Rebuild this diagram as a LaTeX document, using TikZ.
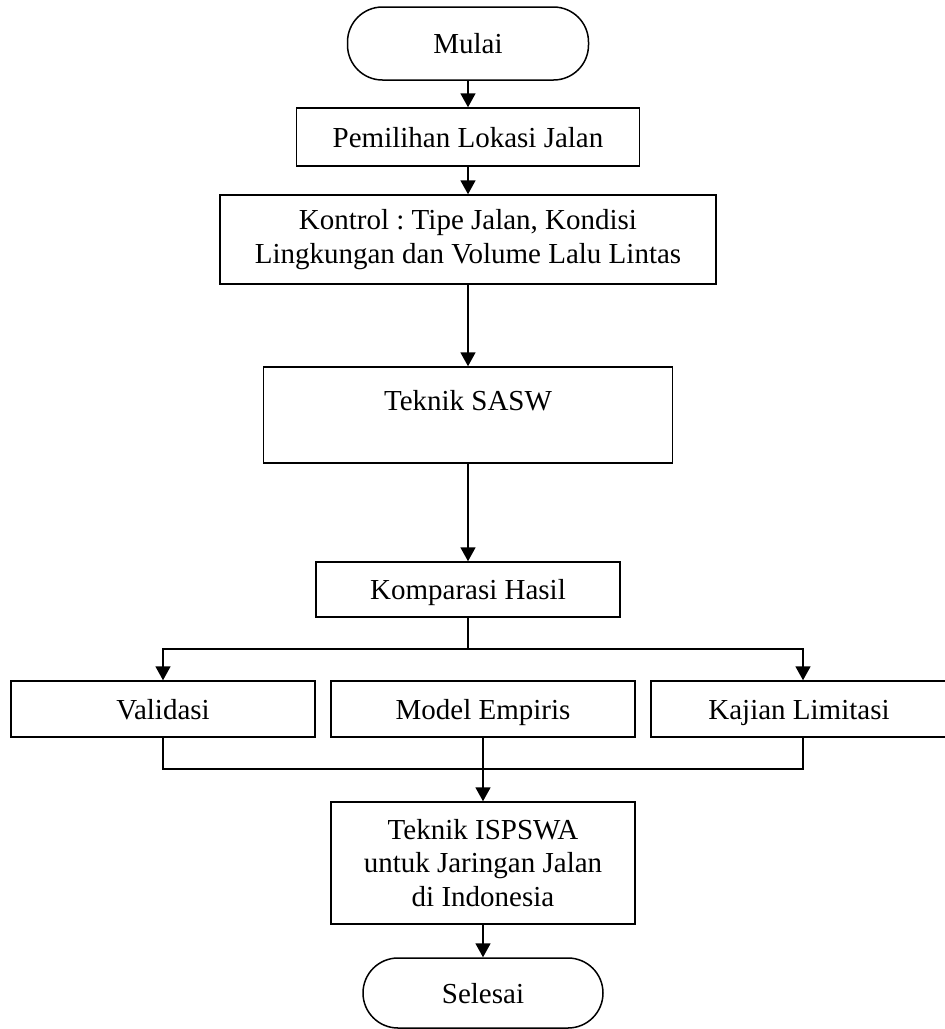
\documentclass[tikz,border=0pt]{standalone}
\usepackage{fontspec}
\setmainfont{Liberation Serif}
\usetikzlibrary{arrows.meta}
\frenchspacing
\begin{document}
\begin{tikzpicture}[x=1pt,y=-1pt,
  box/.style={draw,line width=1.5pt,inner sep=0pt,align=center,font=\fontsize{29}{33.5}\selectfont\frenchspacing},
  one/.style={text height=20pt,text depth=0pt},
  term/.style={box,one,rounded corners=35pt},
  line/.style={line width=1.8pt},
  arr/.style={line,-{Triangle[length=14pt,width=15pt]}}]
\useasboundingbox (0,0) rectangle (945,1029);
\fill[white] (0,0) rectangle (945,1029);
\node[term,minimum width=241pt,minimum height=73pt] (mulai) at (468,43.5) {Mulai};
\node[box,one,minimum width=343pt,minimum height=58pt] (pem) at (468,137) {Pemilihan Lokasi Jalan};
\node[box,minimum width=496pt,minimum height=89pt] (kon) at (468,239.5) {Kontrol : Tipe Jalan, Kondisi\\Lingkungan dan Volume Lalu Lintas};
\node[box,minimum width=409pt,minimum height=96pt] (sasw) at (468,415) {Teknik SASW\\[-5pt]\mbox{}};
\node[box,one,minimum width=304pt,minimum height=55pt] (komp) at (468,589.5) {Komparasi Hasil};
\node[box,one,minimum width=304pt,minimum height=56pt] (val) at (163,709) {Validasi};
\node[box,one,minimum width=304pt,minimum height=56pt] (model) at (483,709) {Model Empiris};
\node[box,one,minimum width=296pt,minimum height=56pt] (kaj) at (799,709) {Kajian Limitasi};
\node[box,minimum width=304pt,minimum height=122pt] (isp) at (483,863) {Teknik ISPSWA\\untuk Jaringan Jalan\\di Indonesia};
\node[term,minimum width=240pt,minimum height=70pt] (sel) at (483,993) {Selesai};
\coordinate (bl) at (163,649);
\coordinate (br) at (803,649);
\coordinate (jl) at (163,769);
\coordinate (jr) at (803,769);
\draw[arr] (mulai.south) -- (pem.north);
\draw[arr] (pem.south) -- (kon.north);
\draw[arr] (kon.south) -- (sasw.north);
\draw[arr] (sasw.south) -- (komp.north);
\draw[line] (komp.south) -- (komp.south |- bl);
\draw[arr] (komp.south |- bl) -- (bl) -- (bl |- val.north);
\draw[arr] (komp.south |- br) -- (br) -- (br |- kaj.north);
\draw[line] (val.south -| jl) -- (jl) -- (jr) -- (kaj.south -| jr);
\draw[arr] (model.south) -- (isp.north);
\draw[arr] (isp.south) -- (sel.north);
\end{tikzpicture}
\end{document}
